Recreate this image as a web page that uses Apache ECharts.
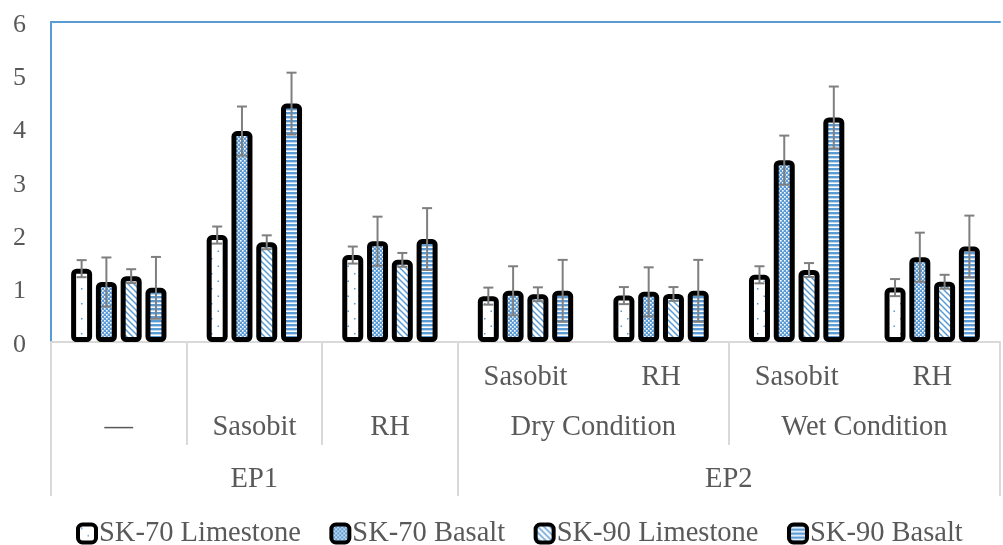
<!DOCTYPE html>
<html><head><meta charset="utf-8">
<script src="https://cdn.jsdelivr.net/npm/echarts@6/dist/echarts.min.js"></script>
<style>html,body{margin:0;padding:0;background:#fff}#c{width:1003px;height:545px}</style>
</head><body><div id="c"></div>
<script>
// ---------- data ----------
const groups = ['EP1 —', 'EP1 Sasobit', 'EP1 RH', 'EP2 Dry Sasobit', 'EP2 Dry RH', 'EP2 Wet Sasobit', 'EP2 Wet RH'];
const seriesNames = ['SK-70 Limestone', 'SK-70 Basalt', 'SK-90 Limestone', 'SK-90 Basalt'];
const sk70Limestone = [1.375, 2.005, 1.63, 0.86, 0.87, 1.26, 1.02];
const sk70Basalt    = [1.125, 3.955, 1.89, 0.96, 0.94, 3.41, 1.59];
const sk90Limestone = [1.235, 1.87, 1.54, 0.895, 0.90, 1.35, 1.13];
const sk90Basalt    = [1.015, 4.47, 1.93, 0.96, 0.96, 4.21, 1.79];
const sk70LimestoneErr = [0.16, 0.16, 0.16, 0.16, 0.16, 0.16, 0.16];
const sk70BasaltErr    = [0.46, 0.46, 0.46, 0.46, 0.46, 0.46, 0.46];
const sk90LimestoneErr = [0.13, 0.13, 0.13, 0.13, 0.13, 0.13, 0.13];
const sk90BasaltErr    = [0.58, 0.58, 0.58, 0.58, 0.58, 0.58, 0.58];
const yMin = 0, yMax = 6, yStep = 1;
// multi-level category labels (spans in group units)
const level1 = [{label: 'Sasobit', from: 3, to: 4}, {label: 'RH', from: 4, to: 5}, {label: 'Sasobit', from: 5, to: 6}, {label: 'RH', from: 6, to: 7}];
const level2 = [{label: '—', from: 0, to: 1}, {label: 'Sasobit', from: 1, to: 2}, {label: 'RH', from: 2, to: 3}, {label: 'Dry Condition', from: 3, to: 5}, {label: 'Wet Condition', from: 5, to: 7}];
const level3 = [{label: 'EP1', from: 0, to: 3}, {label: 'EP2', from: 3, to: 7}];

// ---------- styles ----------
const BLUE = '#5B9BD5';
const FONT = 'Liberation Serif';
const TXT = '#595959';
const FS = 28.5;
const barWidth = 21, barGapRatio = 0.18;
const barSpacing = barWidth * (1 + barGapRatio);

function tile(w, h, draw) {
  const c = document.createElement('canvas'); c.width = w; c.height = h;
  const g = c.getContext('2d'); g.fillStyle = '#fff'; g.fillRect(0, 0, w, h); draw(g); return c;
}
const patterns = [
  tile(13, 15, g => { g.fillStyle = BLUE; g.fillRect(3, 3, 1.5, 1.5); g.fillRect(9.5, 10.5, 1.5, 1.5); }),
  tile(4, 4, g => { g.fillStyle = BLUE; g.fillRect(0, 0, 4, 4); g.fillStyle = '#fff'; g.fillRect(0, 0, 1.6, 1.6); g.fillRect(2, 2, 1.6, 1.6); }),
  tile(6, 6, g => { g.strokeStyle = BLUE; g.lineWidth = 1.5; g.beginPath(); g.moveTo(-1, -1); g.lineTo(7, 7); g.moveTo(-1, 5); g.lineTo(1, 7); g.moveTo(5, -1); g.lineTo(7, 1); g.stroke(); }),
  tile(4, 4, g => { g.fillStyle = BLUE; g.fillRect(0, 0, 4, 2.4); })
];
const values = [sk70Limestone, sk70Basalt, sk90Limestone, sk90Basalt];
const errors = [sk70LimestoneErr, sk70BasaltErr, sk90LimestoneErr, sk90BasaltErr];

const nSlots = groups.length * 2 + 1;
function slotLabels(level) { const a = new Array(nSlots).fill(''); level.forEach(s => { a[s.from + s.to] = s.label; }); return a; }
const row1 = slotLabels(level1), row2 = slotLabels(level2), row3 = slotLabels(level3);
const longTicks = new Set(); level3.forEach(s => { longTicks.add(2 * s.from); longTicks.add(2 * s.to); });
const midTicks = new Set(); level2.forEach(s => { [2 * s.from, 2 * s.to].forEach(t => { if (!longTicks.has(t)) midTicks.add(t); }); });
const slotData = Array.from({length: nSlots}, (_, i) => String(i));

function levelAxis(labels, margin, tickSet, tickLen) {
  return {
    type: 'category', gridIndex: 0, position: 'bottom', boundaryGap: false, data: slotData,
    axisLine: {show: false}, splitLine: {show: false},
    axisTick: {show: !!tickSet, interval: i => tickSet ? tickSet.has(i) : false, length: tickLen || 0, lineStyle: {color: '#D9D9D9', width: 2}},
    axisLabel: {interval: 0, margin: margin, verticalAlign: 'middle', fontFamily: FONT, fontSize: FS, color: TXT, formatter: (v) => labels[+v]}
  };
}

const errData = [];
values.forEach((arr, si) => arr.forEach((v, gi) => errData.push([gi, v, errors[si][gi], si])));

const chart = echarts.init(document.getElementById('c'), null, {renderer: 'canvas'});
chart.setOption({
  animation: false,
  backgroundColor: '#fff',
  grid: {left: 51, top: 22, width: 961, height: 320, containLabel: false},
  legend: {
    data: seriesNames, left: 71, top: 514, itemWidth: 18, itemHeight: 18, itemGap: 28.5,
    icon: 'roundRect',
    itemStyle: {borderColor: '#000', borderWidth: 4},
    textStyle: {fontFamily: FONT, fontSize: FS, color: TXT, padding: [0, 0, 0, -2]}
  },
  xAxis: [
    {type: 'category', data: groups, position: 'bottom',
     axisLine: {show: true, lineStyle: {color: '#D9D9D9', width: 2}}, axisTick: {show: false}, axisLabel: {show: false}},
    {type: 'category', data: groups, position: 'top',
     axisLine: {show: true, lineStyle: {color: BLUE, width: 2}}, axisTick: {show: false}, axisLabel: {show: false}},
    levelAxis(row1, 36, null, 0),
    levelAxis(row2, 86, midTicks, 103),
    levelAxis(row3, 138, longTicks, 154)
  ],
  yAxis: {
    type: 'value', min: yMin, max: yMax, interval: yStep,
    axisLine: {show: true, lineStyle: {color: BLUE, width: 2}}, axisTick: {show: false}, splitLine: {show: false},
    axisLabel: {margin: 25, fontFamily: FONT, fontSize: 26, color: TXT, verticalAlign: 'top', lineHeight: 6}
  },
  series: seriesNames.map((name, si) => ({
    name: name, type: 'bar', xAxisIndex: 0, data: values[si], barWidth: barWidth, barGap: Math.round(barGapRatio * 100) + '%',
    silent: true,
    itemStyle: {color: {image: patterns[si], repeat: 'repeat'}, borderColor: '#000', borderWidth: 5, borderRadius: 3}
  })).concat([{
    type: 'custom', xAxisIndex: 0, data: errData, encode: {x: 0, y: 1}, z: 10, silent: true,
    renderItem: (params, api) => {
      const gi = api.value(0), v = api.value(1), e = api.value(2), si = api.value(3);
      const cx = api.coord([gi, v])[0] + (si - 1.5) * barSpacing;
      const yt = api.coord([gi, v + e])[1], yb = api.coord([gi, v - e])[1];
      const hw = 5, st = {stroke: '#7F7F7F', lineWidth: 2};
      return {type: 'group', children: [
        {type: 'line', shape: {x1: cx, y1: yt, x2: cx, y2: yb}, style: st},
        {type: 'line', shape: {x1: cx - hw, y1: yt, x2: cx + hw, y2: yt}, style: st},
        {type: 'line', shape: {x1: cx - hw, y1: yb, x2: cx + hw, y2: yb}, style: st}
      ]};
    }
  }])
});
</script></body></html>
